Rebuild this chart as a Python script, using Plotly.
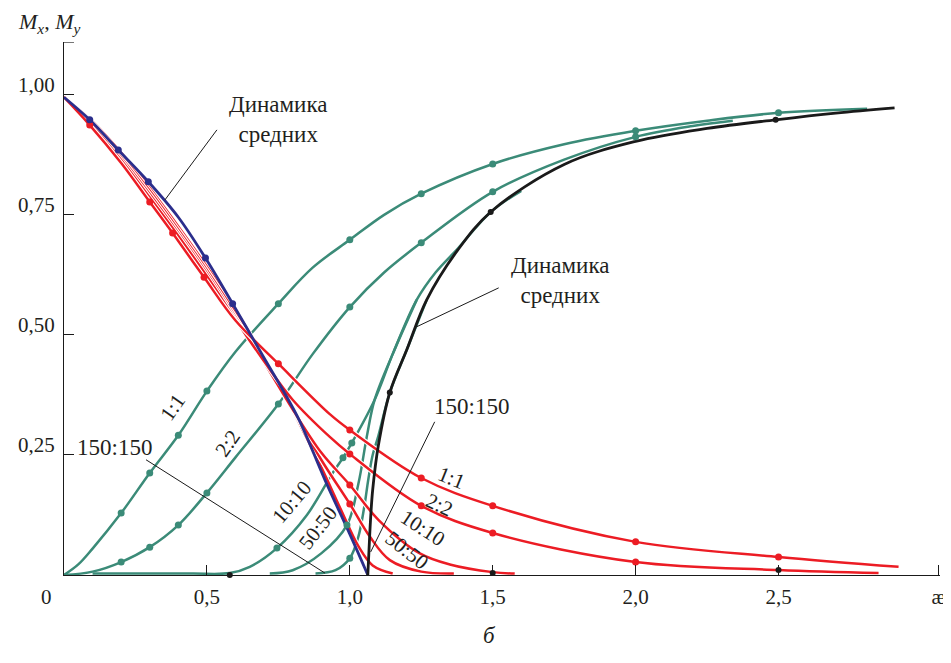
import plotly.graph_objects as go

# ---------------- data ----------------
# green curves (M_y), increasing
g11_x = [0, 0.05, 0.1, 0.2, 0.3, 0.4, 0.5, 0.6, 0.75, 0.87, 1.0, 1.12, 1.25, 1.5, 1.75, 2.0, 2.25, 2.5, 2.81]
g11_y = [0, 0.022, 0.055, 0.129, 0.2125, 0.291, 0.383, 0.465, 0.565, 0.64, 0.698, 0.75, 0.794, 0.856, 0.897, 0.925, 0.946, 0.9625, 0.971]
g11_mx = [0.2, 0.3, 0.4, 0.5, 0.75, 1.0, 1.25, 1.5, 2.0, 2.5]
g11_my = [0.129, 0.2125, 0.291, 0.383, 0.565, 0.698, 0.794, 0.856, 0.925, 0.9625]

g22_x = [0, 0.1, 0.2, 0.3, 0.4, 0.5, 0.6, 0.75, 0.87, 1.0, 1.12, 1.25, 1.5, 1.75, 2.0, 2.2, 2.34]
g22_y = [0, 0.007, 0.027, 0.058, 0.104, 0.171, 0.245, 0.356, 0.46, 0.558, 0.63, 0.692, 0.798, 0.865, 0.9125, 0.935, 0.946]
g22_mx = [0.2, 0.3, 0.4, 0.5, 0.75, 1.0, 1.25, 1.5, 2.0]
g22_my = [0.027, 0.058, 0.104, 0.171, 0.356, 0.558, 0.692, 0.798, 0.9125]

g1010_x = [0.1, 0.3, 0.45, 0.58, 0.65, 0.745, 0.85, 0.94, 0.976, 1.007, 1.087, 1.15, 1.234, 1.3, 1.378, 1.493, 1.6]
g1010_y = [0.003, 0.003, 0.003, 0.004, 0.017, 0.056, 0.125, 0.2125, 0.244, 0.275, 0.365, 0.46, 0.573, 0.63, 0.68, 0.756, 0.8]
g1010_mx = [0.745, 0.976, 1.007]
g1010_my = [0.056, 0.244, 0.275]

g5050_x = [0.72, 0.8, 0.9, 0.99, 1.03, 1.06, 1.087, 1.15, 1.234]
g5050_y = [0.003, 0.01, 0.045, 0.104, 0.19, 0.29, 0.365, 0.46, 0.573]
g5050_mx = [0.99]
g5050_my = [0.104]

g150_x = [0.88, 0.95, 1.0, 1.03, 1.05, 1.065, 1.08, 1.1, 1.14, 1.2, 1.269]
g150_y = [0.003, 0.01, 0.035, 0.08, 0.14, 0.2, 0.25, 0.29, 0.38, 0.47, 0.573]
g150_mx = [1.0]
g150_my = [0.035]

# red curves (M_x), decreasing
r11_x = [0, 0.09, 0.2, 0.3, 0.38, 0.49, 0.6, 0.75, 0.93, 1.0, 1.25, 1.5, 2.0, 2.5, 2.92]
r11_y = [0.995, 0.937, 0.858, 0.777, 0.712, 0.62, 0.53, 0.44, 0.335, 0.302, 0.202, 0.144, 0.069, 0.0375, 0.017]
r11_mx = [0.09, 0.3, 0.38, 0.49, 0.75, 1.0, 1.25, 1.5, 2.0, 2.5]
r11_my = [0.937, 0.777, 0.712, 0.62, 0.44, 0.302, 0.202, 0.144, 0.069, 0.0375]

r22_x = [0, 0.1, 0.2, 0.3, 0.4, 0.5, 0.6, 0.7, 0.8, 0.93, 1.0, 1.25, 1.5, 2.0, 2.5, 2.85]
r22_y = [0.995, 0.935, 0.864, 0.786, 0.706, 0.622, 0.532, 0.445, 0.365, 0.2875, 0.252, 0.144, 0.0875, 0.027, 0.0104, 0.004]
r22_mx = [1.0, 1.25, 1.5, 2.0]
r22_my = [0.252, 0.144, 0.0875, 0.027]

r1010_x = [0, 0.1, 0.2, 0.3, 0.4, 0.5, 0.6, 0.7, 0.8, 0.9, 1.0, 1.1, 1.245, 1.35, 1.5, 1.577]
r1010_y = [0.995, 0.938, 0.869, 0.793, 0.712, 0.628, 0.537, 0.443, 0.345, 0.255, 0.1875, 0.115, 0.045, 0.022, 0.006, 0.003]
r1010_mx = [1.0]
r1010_my = [0.1875]

r5050_x = [0, 0.1, 0.2, 0.3, 0.4, 0.5, 0.6, 0.7, 0.8, 0.9, 1.0, 1.07, 1.14, 1.25, 1.364]
r5050_y = [0.995, 0.941, 0.874, 0.8, 0.719, 0.635, 0.545, 0.45, 0.345, 0.24, 0.148, 0.08, 0.031, 0.007, 0.003]
r5050_mx = [1.0]
r5050_my = [0.148]

r150_x = [0, 0.1, 0.2, 0.3, 0.4, 0.5, 0.6, 0.7, 0.8, 0.9, 0.97, 1.03, 1.08, 1.15]
r150_y = [0.995, 0.944, 0.879, 0.806, 0.726, 0.642, 0.552, 0.452, 0.343, 0.225, 0.135, 0.06, 0.02, 0.003]

# "dynamics of means"
blue_x = [0, 0.09, 0.19, 0.295, 0.4, 0.495, 0.59, 0.7, 0.766, 0.825, 0.913, 1.0, 1.063]
blue_y = [0.995, 0.948, 0.885, 0.819, 0.745, 0.66, 0.565, 0.452, 0.385, 0.32, 0.198, 0.085, 0.0]
blue_mx = [0.09, 0.19, 0.295, 0.495, 0.59]
blue_my = [0.948, 0.885, 0.819, 0.66, 0.565]

black_x = [1.063, 1.067, 1.072, 1.08, 1.1, 1.14, 1.2, 1.269, 1.378, 1.493, 1.75, 2.0, 2.25, 2.49, 2.7, 2.906]
black_y = [0.0, 0.05, 0.11, 0.177, 0.27, 0.38, 0.47, 0.573, 0.677, 0.756, 0.855, 0.903, 0.93, 0.948, 0.962, 0.973]
black_mx = [1.14, 1.493, 2.49, 0.58, 1.5, 2.5]
black_my = [0.38, 0.756, 0.948, 0.0, 0.004, 0.0104]

x_tickvals = [0.5, 1.0, 1.5, 2.0, 2.5, 3.06]
x_ticktext = ["0,5", "1,0", "1,5", "2,0", "2,5", "æ"]
y_tickvals = [0.25, 0.5, 0.75, 1.0]
y_ticktext = ["0,25", "0,50", "0,75", "1,00"]
Y_TOP = 1.11
X_END = 3.065

# ---------------- style ----------------
GREEN = "#3b8b78"
RED = "#ec1c24"
BLUE = "#2b2e8c"
BLACK = "#1a1a1a"
FONT = "'Liberation Serif', 'Times New Roman', 'DejaVu Serif', serif"
TXT = "#231f20"

fig = go.Figure()


def curve(x, y, color, width=2.5, casing=False):
    if casing:
        fig.add_trace(go.Scatter(x=x, y=y, mode="lines", hoverinfo="skip",
                                 line=dict(color="white", width=width + 2.2, shape="spline", smoothing=1.0)))
    fig.add_trace(go.Scatter(x=x, y=y, mode="lines", hoverinfo="skip",
                             line=dict(color=color, width=width, shape="spline", smoothing=1.0)))


def dots(x, y, color, size=7):
    fig.add_trace(go.Scatter(x=x, y=y, mode="markers", hoverinfo="skip", cliponaxis=False,
                             marker=dict(color=color, size=size, line=dict(width=0))))


for gx, gy in [(g11_x, g11_y), (g22_x, g22_y), (g1010_x, g1010_y), (g5050_x, g5050_y), (g150_x, g150_y)]:
    curve(gx, gy, GREEN)
for rx, ry in [(r150_x, r150_y), (r5050_x, r5050_y), (r1010_x, r1010_y), (r22_x, r22_y), (r11_x, r11_y)]:
    curve(rx, ry, RED, casing=True)
curve(blue_x, blue_y, BLUE, width=2.8)
curve(black_x, black_y, BLACK, width=2.8)

for mx, my in [(g11_mx, g11_my), (g22_mx, g22_my), (g1010_mx, g1010_my), (g5050_mx, g5050_my), (g150_mx, g150_my)]:
    dots(mx, my, GREEN)
for mx, my in [(r11_mx, r11_my), (r22_mx, r22_my), (r1010_mx, r1010_my), (r5050_mx, r5050_my)]:
    dots(mx, my, RED)
dots(blue_mx, blue_my, BLUE)
dots(black_mx, black_my, BLACK, size=6)

# pointer lines
pointers = [
    (0.535, 0.927, 0.353, 0.781),
    (1.521, 0.598, 1.234, 0.517),
    (1.297, 0.319, 1.073, 0.048),
    (0.287, 0.240, 0.913, 0.004),
]
for x0, y0, x1, y1 in pointers:
    fig.add_shape(type="line", x0=x0, y0=y0, x1=x1, y1=y1, xref="x", yref="y",
                  line=dict(color=BLACK, width=1))
# tick mark at the top end of the y axis
fig.add_shape(type="line", x0=0, x1=0.035, y0=Y_TOP, y1=Y_TOP, xref="x", yref="y",
              line=dict(color=BLACK, width=1.2))

ann = []


def label(x, y, text, size=22, angle=0, ref="data"):
    xr, yr = ("x", "y") if ref == "data" else ("paper", "paper")
    ann.append(dict(x=x, y=y, xref=xr, yref=yr, text=text, showarrow=False,
                    xanchor="center", yanchor="middle",
                    textangle=angle, font=dict(family=FONT, size=size, color=TXT)))


label(0.748, 0.948, "Динамика<br>средних", size=23)
label(1.734, 0.6125, "Динамика<br>средних", size=23)
label(1.427, 0.350, "150:150", size=23)
label(0.178, 0.265, "150:150", size=23)
# green labels
label(0.381, 0.350, "1:1", size=21, angle=-55)
label(0.573, 0.275, "2:2", size=21, angle=-55)
label(0.797, 0.152, "10:10", size=21, angle=-50)
label(0.888, 0.098, "50:50", size=21, angle=-52)
# red labels
label(1.357, 0.202, "1:1", size=21, angle=22)
label(1.315, 0.146, "2:2", size=21, angle=25)
label(1.255, 0.098, "10:10", size=21, angle=33)
label(1.199, 0.052, "50:50", size=21, angle=38)
# axis texts (outside the plotting area -> paper coordinates)
label(-0.0171, 1.0356, "<i>M</i><sub><i>x</i></sub>, <i>M</i><sub><i>y</i></sub>", size=22, ref="paper")
label(-0.0205, -0.0413, "0", size=21, ref="paper")
label(0.4863, -0.1126, "<i>б</i>", size=23, ref="paper")

# the page body has an 8 px margin, so the figure is 8 px smaller than the window
fig.update_layout(
    width=943, height=655,
    margin=dict(l=56, r=11, t=34, b=88, autoexpand=False),
    paper_bgcolor="white", plot_bgcolor="white",
    showlegend=False,
    annotations=ann,
    font=dict(family=FONT, color=TXT),
    xaxis=dict(range=[0, X_END], showgrid=False, zeroline=False, showline=True, automargin=False,
               linecolor=BLACK, linewidth=1.3, ticks="inside", ticklen=10, tickwidth=1.2,
               tickcolor=BLACK, tickvals=x_tickvals, ticktext=x_ticktext,
               tickfont=dict(family=FONT, size=21, color=TXT), ticklabelstandoff=3),
    yaxis=dict(range=[0, Y_TOP], showgrid=False, zeroline=False, showline=True, automargin=False,
               linecolor=BLACK, linewidth=1.3, ticks="inside", ticklen=10, tickwidth=1.2,
               tickcolor=BLACK, tickvals=y_tickvals, ticktext=y_ticktext,
               tickfont=dict(family=FONT, size=21, color=TXT), ticklabelshift=-10,
               ticklabelstandoff=4),
)

fig.write_html("out.html")
